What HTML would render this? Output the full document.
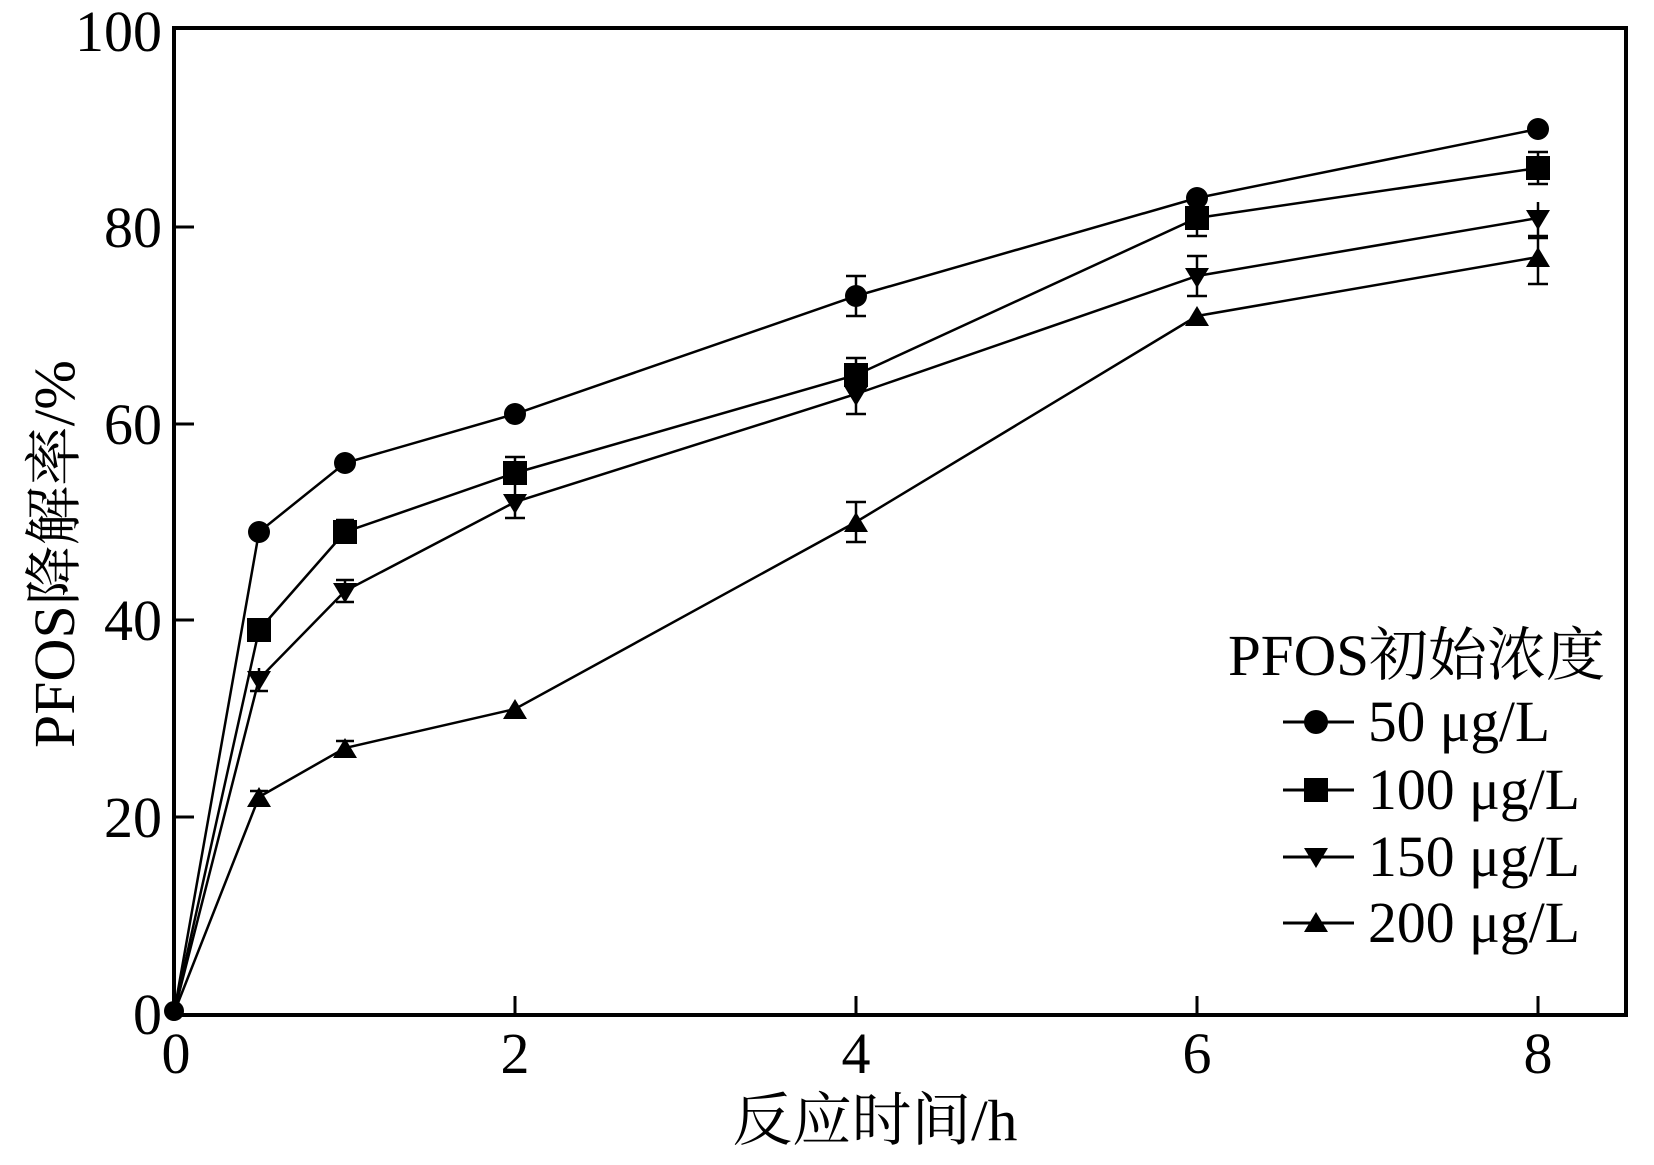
<!DOCTYPE html>
<html><head><meta charset="utf-8"><style>html,body{margin:0;padding:0;background:#fff}</style></head>
<body>
<svg width="1654" height="1160" viewBox="0 0 1654 1160" xmlns="http://www.w3.org/2000/svg" font-family="'Liberation Serif','Noto Serif CJK SC',serif">
<rect x="174" y="28" width="1452" height="987" fill="none" stroke="#000" stroke-width="4"/>
<g stroke="#000" stroke-width="3">
<line x1="515" y1="1015" x2="515" y2="996"/><line x1="856" y1="1015" x2="856" y2="996"/><line x1="1197" y1="1015" x2="1197" y2="996"/><line x1="1538" y1="1015" x2="1538" y2="996"/>
<line x1="174" y1="817" x2="194" y2="817"/><line x1="174" y1="620" x2="194" y2="620"/><line x1="174" y1="424" x2="194" y2="424"/><line x1="174" y1="227" x2="194" y2="227"/>
</g>
<g font-size="58" text-anchor="end">
<text x="162" y="1034">0</text><text x="162" y="837">20</text><text x="162" y="640">40</text><text x="162" y="444">60</text><text x="162" y="247">80</text><text x="162" y="51">100</text>
</g>
<g font-size="58" text-anchor="middle">
<text x="176" y="1073">0</text><text x="515" y="1073">2</text><text x="856" y="1073">4</text><text x="1197" y="1073">6</text><text x="1538" y="1073">8</text>
</g>
<text x="875" y="1140" font-size="58" text-anchor="middle" textLength="285" lengthAdjust="spacingAndGlyphs">反应时间/h</text>
<text transform="translate(74,554) rotate(-90)" font-size="58" text-anchor="middle" textLength="388" lengthAdjust="spacingAndGlyphs">PFOS降解率/%</text>
<g stroke="#000" stroke-width="2.5" fill="none">
<polyline points="174,1013 259,532 345,463 515,414 856,296 1197,198 1538,129"/>
<polyline points="174,1013 259,630 345,532 515,473 856,375 1197,218 1538,168"/>
<polyline points="174,1013 259,679 345,591 515,502 856,394 1197,276 1538,218"/>
<polyline points="174,1013 259,797 345,748 515,709 856,522 1197,316 1538,257"/>
</g>
<g stroke="#000" stroke-width="2.5">
<line x1="856" y1="276" x2="856" y2="316"/><line x1="846" y1="276" x2="866" y2="276"/><line x1="846" y1="316" x2="866" y2="316"/>
<line x1="856" y1="358" x2="856" y2="392"/><line x1="846" y1="358" x2="866" y2="358"/>
<line x1="856" y1="376" x2="856" y2="414"/><line x1="846" y1="414" x2="866" y2="414"/>
<line x1="856" y1="502" x2="856" y2="542"/><line x1="846" y1="502" x2="866" y2="502"/><line x1="846" y1="542" x2="866" y2="542"/>
<line x1="515" y1="457" x2="515" y2="490"/><line x1="505" y1="457" x2="525" y2="457"/><line x1="505" y1="518" x2="525" y2="518"/><line x1="515" y1="490" x2="515" y2="518"/>
<line x1="1197" y1="200" x2="1197" y2="236"/><line x1="1187" y1="236" x2="1207" y2="236"/>
<line x1="1197" y1="256" x2="1197" y2="296"/><line x1="1187" y1="256" x2="1207" y2="256"/><line x1="1187" y1="296" x2="1207" y2="296"/>
<line x1="1538" y1="152" x2="1538" y2="184"/><line x1="1528" y1="152" x2="1548" y2="152"/><line x1="1528" y1="184" x2="1548" y2="184"/>
<line x1="1538" y1="202" x2="1538" y2="236"/><line x1="1528" y1="236" x2="1548" y2="236"/>
<line x1="1538" y1="238" x2="1538" y2="284"/><line x1="1528" y1="238" x2="1548" y2="238"/><line x1="1528" y1="284" x2="1548" y2="284"/>
<line x1="345" y1="520" x2="345" y2="544"/><line x1="336" y1="520" x2="354" y2="520"/>
<line x1="345" y1="580" x2="345" y2="602"/><line x1="336" y1="580" x2="354" y2="580"/><line x1="336" y1="602" x2="354" y2="602"/>
<line x1="259" y1="668" x2="259" y2="691"/><line x1="250" y1="691" x2="268" y2="691"/>
<line x1="336" y1="741" x2="354" y2="741"/><line x1="250" y1="791" x2="268" y2="791"/>
</g>
<g fill="#000">
<circle cx="174" cy="1011" r="10"/><circle cx="259" cy="532" r="11"/><circle cx="345" cy="463" r="11"/><circle cx="515" cy="414" r="11"/><circle cx="856" cy="296" r="11"/><circle cx="1197" cy="198" r="11"/><circle cx="1538" cy="129" r="11"/>
<rect x="247" y="618" width="24" height="24"/><rect x="333" y="520" width="24" height="24"/><rect x="503" y="461" width="24" height="24"/><rect x="844" y="363" width="24" height="24"/><rect x="1185" y="206" width="24" height="24"/><rect x="1526" y="156" width="24" height="24"/>
<polygon points="247,671 271,671 259,691"/><polygon points="333,583 357,583 345,603"/><polygon points="503,494 527,494 515,514"/><polygon points="844,386 868,386 856,406"/><polygon points="1185,268 1209,268 1197,288"/><polygon points="1526,210 1550,210 1538,230"/>
<polygon points="247,807 271,807 259,787"/><polygon points="333,758 357,758 345,738"/><polygon points="503,719 527,719 515,699"/><polygon points="844,532 868,532 856,512"/><polygon points="1185,326 1209,326 1197,306"/><polygon points="1526,267 1550,267 1538,247"/>
</g>
<text x="1228" y="675" font-size="58" textLength="377" lengthAdjust="spacingAndGlyphs">PFOS初始浓度</text>
<g stroke="#000" stroke-width="3">
<line x1="1283" y1="722" x2="1354" y2="722"/><line x1="1283" y1="790" x2="1354" y2="790"/><line x1="1283" y1="857" x2="1354" y2="857"/><line x1="1283" y1="923" x2="1354" y2="923"/>
</g>
<g fill="#000">
<circle cx="1316" cy="722" r="12"/><rect x="1304" y="778" width="24" height="24"/><polygon points="1304,848 1328,848 1316,868"/><polygon points="1304,932 1328,932 1316,912"/>
</g>
<g font-size="58">
<text x="1368" y="741" textLength="182" lengthAdjust="spacingAndGlyphs">50 μg/L</text><text x="1368" y="809" textLength="212" lengthAdjust="spacingAndGlyphs">100 μg/L</text><text x="1368" y="876" textLength="212" lengthAdjust="spacingAndGlyphs">150 μg/L</text><text x="1368" y="942" textLength="212" lengthAdjust="spacingAndGlyphs">200 μg/L</text>
</g>
</svg>
</body></html>
